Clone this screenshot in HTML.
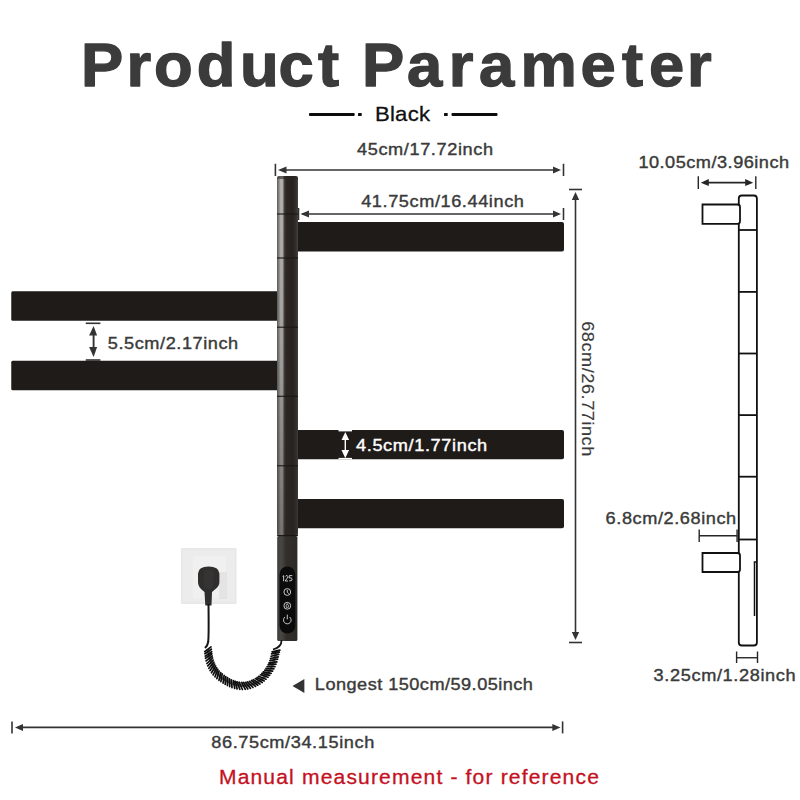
<!DOCTYPE html>
<html><head><meta charset="utf-8">
<style>
html,body{margin:0;padding:0;background:#fff;width:800px;height:800px;overflow:hidden}
svg{display:block}
text{font-family:"Liberation Sans",sans-serif}
</style></head>
<body>
<svg width="800" height="800" viewBox="0 0 800 800">
<defs>
  <linearGradient id="pole" x1="0" x2="1" y1="0" y2="0">
    <stop offset="0" stop-color="#5e5c5a"/>
    <stop offset="0.1" stop-color="#8c8b89"/>
    <stop offset="0.18" stop-color="#b6b5b3"/>
    <stop offset="0.27" stop-color="#adacaa"/>
    <stop offset="0.34" stop-color="#4c4743"/>
    <stop offset="0.42" stop-color="#2c2723"/>
    <stop offset="0.75" stop-color="#27221f"/>
    <stop offset="0.92" stop-color="#37322f"/>
    <stop offset="1" stop-color="#4a4643"/>
  </linearGradient>
  <linearGradient id="pole2" x1="0" x2="1" y1="0" y2="0">
    <stop offset="0" stop-color="#3e3c3a"/>
    <stop offset="0.2" stop-color="#4a4845"/>
    <stop offset="0.45" stop-color="#312e2b"/>
    <stop offset="1" stop-color="#2e2a27"/>
  </linearGradient>
  <linearGradient id="poleDim" x1="0" x2="0" y1="0" y2="1">
    <stop offset="0" stop-color="#2a2623" stop-opacity="0"/>
    <stop offset="0.45" stop-color="#2a2623" stop-opacity="0.1"/>
    <stop offset="1" stop-color="#2a2623" stop-opacity="0.45"/>
  </linearGradient>
</defs>
<rect width="800" height="800" fill="#fff"/>

<!-- Title -->
<text id="title" transform="scale(1.03,1)" x="78.64 122.82 149.51 191.07 233.01 270.39 308.74 330.10 351.46 395.15 435.63 465.05 505.34 563.59 603.88 630.10 666.99" y="86" font-size="61.5" font-weight="bold" fill="#3b3b3b" stroke="#3b3b3b" stroke-width="1.3" stroke-linejoin="round">Product Parameter</text>

<!-- Black -->
<rect x="309" y="113" width="45.7" height="3.1" rx="1" fill="#0c0c0c"/>
<rect x="358" y="113" width="3.7" height="3.1" rx="0.6" fill="#0c0c0c"/>
<rect x="444" y="113" width="3.7" height="3.1" rx="0.6" fill="#0c0c0c"/>
<rect x="451.5" y="113" width="46" height="3.1" rx="1" fill="#0c0c0c"/>
<text id="black" transform="translate(375.0,121) scale(1.08,1)" font-size="20.5" fill="#111" stroke="#111" stroke-width="0.3" textLength="50.93" lengthAdjust="spacing">Black</text>

<g fill="#3a3a3a" stroke="#3a3a3a" stroke-width="0.4" font-size="16.8">
<text id="t45" transform="translate(357.00,155.3) scale(1.08,1)" textLength="125.93" lengthAdjust="spacing">45cm/17.72inch</text>
<text id="t41" transform="translate(361.20,206.5) scale(1.08,1)" textLength="150.65" lengthAdjust="spacing">41.75cm/16.44inch</text>
<text id="t10" transform="translate(638.40,168.0) scale(1.08,1)" textLength="139.54" lengthAdjust="spacing">10.05cm/3.96inch</text>
<text id="t55" transform="translate(107.85,349.4) scale(1.08,1)" textLength="120.65" lengthAdjust="spacing">5.5cm/2.17inch</text>
<text id="t68b" transform="translate(605.60,523.75) scale(1.08,1)" textLength="120.92" lengthAdjust="spacing">6.8cm/2.68inch</text>
<text id="t325" transform="translate(653.60,681.2) scale(1.08,1)" textLength="131.49" lengthAdjust="spacing">3.25cm/1.28inch</text>
<text id="tlong" transform="translate(314.85,690.0) scale(1.08,1)" textLength="201.94" lengthAdjust="spacing">Longest 150cm/59.05inch</text>
<text id="t86" transform="translate(211.25,747.8) scale(1.08,1)" textLength="150.93" lengthAdjust="spacing">86.75cm/34.15inch</text>
<text id="t68" stroke-width="0.15" transform="translate(582.2,321.25) rotate(90) scale(1.08,1)" textLength="125.00" lengthAdjust="spacing">68cm/26.77inch</text>
</g>
<text id="tred" transform="translate(218.95,784.3) scale(1.08,1)" font-size="19.5" fill="#c4111f" stroke="#c4111f" stroke-width="0.3" textLength="351.76" lengthAdjust="spacing">Manual measurement - for reference</text>

<!-- dimension arrows -->
<g stroke="#333" stroke-width="1.6" fill="none">
  <line x1="275.4" y1="163.75" x2="275.4" y2="176"/>
  <line x1="563.5" y1="163.75" x2="563.5" y2="176"/>
  <line x1="280" y1="170" x2="558" y2="170"/>
  <line x1="298.5" y1="208" x2="298.5" y2="220"/>
  <line x1="563.5" y1="208" x2="563.5" y2="220"/>
  <line x1="302" y1="214" x2="558" y2="214"/>
  <line x1="575.5" y1="195" x2="575.5" y2="637"/>
  <line x1="569" y1="189.5" x2="582" y2="189.5"/>
  <line x1="569" y1="642.5" x2="582" y2="642.5"/>
  <line x1="12" y1="721.4" x2="12" y2="733.4"/>
  <line x1="562.6" y1="721.4" x2="562.6" y2="733.4"/>
  <line x1="18" y1="727.4" x2="557" y2="727.4"/>
  <line x1="93.6" y1="330" x2="93.6" y2="352" stroke-width="1.9"/>
  <line x1="85.75" y1="323.3" x2="100.4" y2="323.3"/>
  <line x1="85.75" y1="360" x2="100.4" y2="360"/>
</g>
<g fill="#333">
  <polygon points="278,170 286.5,166.5 286.5,173.5"/>
  <polygon points="561,170 553,166.5 553,173.5"/>
  <polygon points="300.5,214 309,210.5 309,217.5"/>
  <polygon points="561,214 553,210.5 553,217.5"/>
  <polygon points="575.5,192 571.8,200 579.2,200"/>
  <polygon points="575.5,640 571.8,632 579.2,632"/>
  <polygon points="15,727.4 23,724 23,731"/>
  <polygon points="560.5,727.4 552.3,724 552.3,731"/>
  <polygon points="93.6,326 89.1,335.4 97.1,335.4"/>
  <polygon points="93.6,357 89.1,347 97.1,347"/>
  <polygon points="292.5,686 304.4,679 304.4,693"/>
</g>

<g stroke="#262626" stroke-width="1.4" fill="none">
  <line x1="698.3" y1="176.3" x2="698.3" y2="188.9"/>
  <line x1="755.8" y1="176.3" x2="755.8" y2="188.9"/>
  <line x1="704" y1="182.7" x2="750" y2="182.7" stroke-width="1.7"/>
  <line x1="699.2" y1="529.5" x2="699.2" y2="542"/>
  <line x1="737.2" y1="529.5" x2="737.2" y2="542" stroke="#555" stroke-width="2"/>
  <line x1="699.2" y1="535.8" x2="737.2" y2="535.8"/>
  <line x1="736.6" y1="651.5" x2="736.6" y2="663"/>
  <line x1="757.5" y1="651.5" x2="757.5" y2="663"/>
  <line x1="736.6" y1="657.75" x2="757.5" y2="657.75"/>
</g>
<g fill="#262626">
  <polygon points="700.75,182.7 708.8,178.9 708.8,186.1"/>
  <polygon points="753.2,182.7 745.2,178.9 745.2,186.1"/>
</g>

<!-- bars -->
<g fill="#1f1b18">
  <rect x="296" y="222" width="268" height="29.5" rx="2"/>
  <rect x="296" y="430" width="268" height="29.3" rx="2"/>
  <rect x="296" y="499" width="268" height="29.3" rx="2"/>
  <rect x="11.25" y="291.25" width="268" height="29.5" rx="1.5"/>
  <rect x="11.25" y="360.7" width="268" height="29.5" rx="1.5"/>
</g>

<!-- pole -->
<rect x="277" y="176" width="21" height="360" rx="3" fill="url(#pole)"/>
<rect x="277" y="176" width="21" height="3" rx="1.5" fill="#2a2623" opacity="0.6"/>
<rect x="277" y="176" width="21" height="360" rx="3" fill="url(#poleDim)"/>
<rect x="277.2" y="536" width="20.2" height="105" rx="1.5" fill="url(#pole2)"/>
<g stroke="#1a1714" stroke-width="1.1">
  <line x1="277" y1="214" x2="298" y2="214"/>
  <line x1="277" y1="258" x2="298" y2="258"/>
  <line x1="277" y1="327.2" x2="298" y2="327.2"/>
  <line x1="277" y1="396.3" x2="298" y2="396.3"/>
  <line x1="277" y1="465.8" x2="298" y2="465.8"/>
  <line x1="277" y1="535.6" x2="298" y2="535.6"/>
</g>
<rect x="279.5" y="566.5" width="15.8" height="67" rx="7.9" fill="#0b0b0b"/>
<g fill="none" stroke="#d0d0d0" stroke-width="0.95">
  <path d="M282.6,576.3 L283.6,575.6 V581.3 M285.3,576.5 Q286,575.2 287.2,575.6 Q288.2,576.2 287.4,577.8 L285.2,581 H288 M292.3,575.6 H289.3 L289.1,578 Q291.6,577.3 292.2,578.9 Q292.2,581.3 289.2,580.9"/>
  <circle cx="287.3" cy="592" r="3.4"/>
  <path d="M287.3,589.9 V592.3 L288.8,593.6"/>
  <circle cx="287.3" cy="605.8" r="3.4"/>
  <path d="M287.3,603.6 Q285.6,606 286.2,607.2 Q287.3,608 288.4,607.2 Q289,606 287.3,603.6Z" stroke-width="0.8"/>
  <path d="M285,617 A3.8,3.8 0 1 0 289.6,617"/>
  <path d="M287.3,614.6 V619.3"/>
</g>
<!-- white arrow on bar -->
<g stroke="#fff" fill="#fff">
  <line x1="345.3" y1="438" x2="345.3" y2="452" stroke-width="1.4"/>
  <line x1="338.5" y1="430.7" x2="352" y2="430.7" stroke-width="1.4"/>
  <line x1="338.5" y1="458.6" x2="352" y2="458.6" stroke-width="1.4"/>
  <polygon points="345.3,431.9 341.5,440 349.1,440" stroke="none"/>
  <polygon points="345.3,458.3 341.5,450 349.1,450" stroke="none"/>
</g>
<text id="t45w" transform="translate(356.00,451.4) scale(1.08,1)" stroke="#fff" stroke-width="0.4" font-size="16.8" fill="#fff" textLength="121.47" lengthAdjust="spacing">4.5cm/1.77inch</text>

<!-- socket -->
<rect x="181" y="548" width="55.5" height="56" fill="#e8e8e8"/>
<rect x="183" y="550" width="51.5" height="52" fill="#ececec"/>
<rect x="193" y="556" width="33" height="42" fill="#f0f0f0"/>
<rect x="219" y="572" width="8" height="27" fill="#dedede" opacity="0.7"/>
<path d="M198,582 L198,573.5 Q198.5,566.6 208.6,566.6 Q218.8,566.6 219.4,573.5 L219.4,582 Q219.4,586 215.5,589 L212,592 L211.5,605.5 L205.3,605.5 L204.5,592 L201.5,589.5 Q198,586 198,582 Z" fill="#2f2e2d"/>
<path d="M204,571 Q208.6,569 214,571 L213,588 Q208.6,590 204,588 Z" fill="#3a3938" opacity="0.6"/>
<path d="M208.5,604 C208.6,620 209,634 208.2,642 C207.8,645 206.5,646.5 205,648" stroke="#161616" stroke-width="2" fill="none"/>
<path d="M281.6,640 C281.6,645 279,648 273,649.5" stroke="#161616" stroke-width="1.8" fill="none"/>
<path d="M207.8,649 Q210,667 221,677.5 Q234,687 247,685.5 Q261,684 270,670 Q275,661 276,651" stroke="#666" stroke-width="2.5" fill="none"/>
<path d="M204.7,651.6L211.0,646.9M204.9,653.7L211.4,649.2M205.2,656.1L211.7,651.7M205.5,658.3L211.9,653.8M206.1,660.9L212.2,656.0M206.9,663.5L212.6,658.0M207.8,665.9L213.2,660.1M208.9,668.3L213.9,662.2M210.1,670.5L214.7,664.1M211.5,672.8L215.6,666.0M213.1,674.8L216.6,667.8M215.0,676.8L217.8,669.4M216.9,678.6L219.1,671.1M219.0,680.3L220.7,672.6M220.9,681.7L222.2,673.9M223.1,683.1L224.1,675.3M225.2,684.4L225.8,676.5M227.4,685.6L227.6,677.7M229.7,686.7L229.5,678.8M232.0,687.6L231.4,679.8M234.7,688.5L233.5,680.7M237.1,689.0L235.3,681.3M239.8,689.3L237.2,681.9M242.4,689.5L239.2,682.2M245.3,689.3L241.5,682.4M247.8,689.0L243.4,682.4M250.4,688.4L245.4,682.3M253.0,687.5L247.4,681.9M255.5,686.4L249.5,681.3M257.8,685.2L251.5,680.5M259.9,684.0L253.3,679.6M262.2,682.5L255.4,678.6M264.2,680.9L257.1,677.5M266.0,679.2L258.7,676.3M268.0,677.2L260.5,674.8M269.6,675.3L261.9,673.4M271.1,673.4L263.3,671.9M272.6,671.1L264.8,670.1M273.9,668.9L266.0,668.4M275.0,666.6L267.1,666.5M276.0,664.2L268.2,664.6M276.9,661.9L269.0,662.8M277.6,659.2L269.9,660.7M278.2,656.8L270.5,658.5M278.7,654.4L271.1,656.3M279.3,652.1L271.6,653.9M279.9,650.2L272.1,651.8" stroke="#0e0e0e" stroke-width="1.7" stroke-linecap="round" fill="none"/>

<!-- side view -->
<g stroke="#111" stroke-width="1.8" fill="#fff">
  <rect x="738.8" y="195.5" width="18.1" height="450" rx="3"/>
  <path d="M702.5,204.5 H737.5 Q740,204.5 740,207 V221.3 Q740,223.8 737.5,223.8 H702.5 Z"/>
  <path d="M702.5,553 H737.5 Q740,553 740,555.5 V569.5 Q740,572 737.5,572 H702.5 Z"/>
  <line x1="738.8" y1="230" x2="756.9" y2="230"/>
  <line x1="738.8" y1="291.9" x2="756.9" y2="291.9"/>
  <line x1="738.8" y1="353.5" x2="756.9" y2="353.5"/>
  <line x1="738.8" y1="415.1" x2="756.9" y2="415.1"/>
  <line x1="738.8" y1="476.7" x2="756.9" y2="476.7"/>
  <line x1="738.8" y1="539.5" x2="756.9" y2="539.5"/>
  <path d="M754.5,616 V562 H756.9" fill="none" stroke-width="1.5"/>
</g>
</svg>
</body></html>
